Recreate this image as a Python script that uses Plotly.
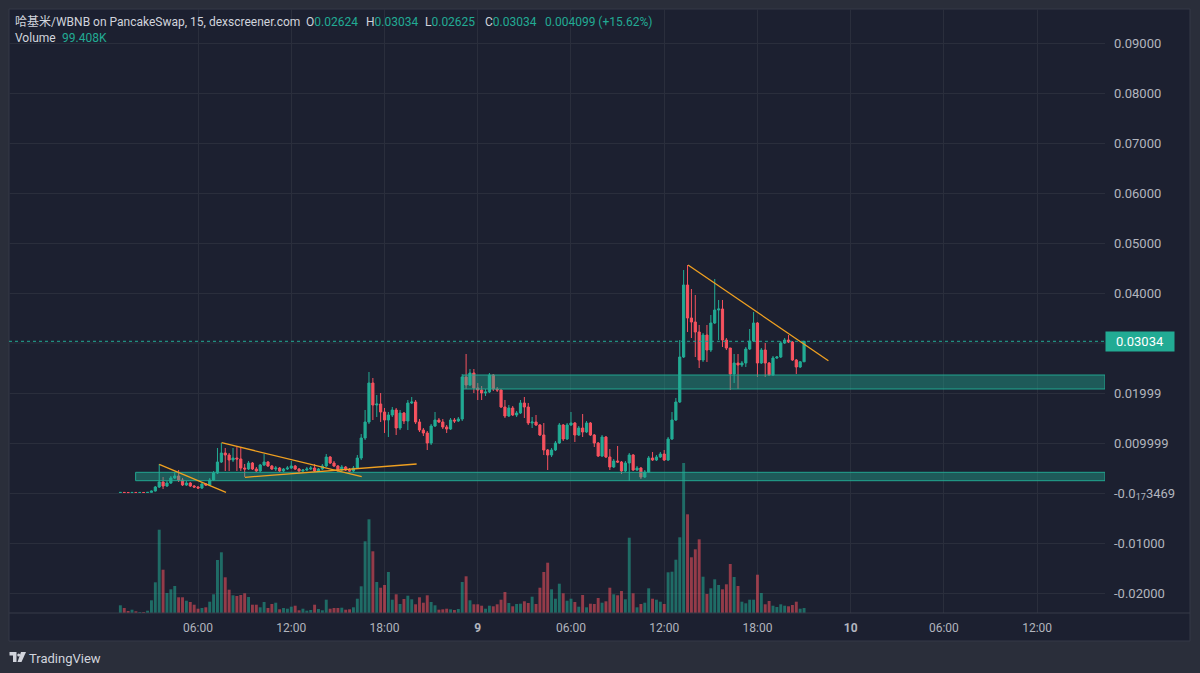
import plotly.graph_objects as go
import pandas as pd

# ---------------- data ----------------
START = "2025-05-08 01:00"   # first 15-minute candle
opens = [0.00010, 0.00012, 0.00010, 0.00009, 0.00011, 0.00010, 0.00011, 0.00010, 0.00013, 0.0004,
         0.0012, 0.0022, 0.0014, 0.0020, 0.0030, 0.0034, 0.0026, 0.0016, 0.0020, 0.0014,
         0.0012, 0.0010, 0.0018, 0.0016, 0.0026, 0.0040, 0.0062, 0.0080, 0.0076, 0.0066,
         0.0070, 0.0068, 0.0050, 0.0048, 0.0060, 0.0048, 0.0044, 0.0056, 0.0062, 0.0054,
         0.0048, 0.0050, 0.0044, 0.0048, 0.0050, 0.0054, 0.0048, 0.0044, 0.0046, 0.0048,
         0.0050, 0.0044, 0.0048, 0.0054, 0.0072, 0.0060, 0.0054, 0.0046, 0.0052, 0.0046,
         0.0044, 0.0050, 0.0070, 0.0110, 0.0142, 0.0220, 0.0176, 0.0178, 0.0162, 0.0146,
         0.0156, 0.0166, 0.0130, 0.0160, 0.0144, 0.0180, 0.0182, 0.0142, 0.0126, 0.0120,
         0.0100, 0.0134, 0.0146, 0.0142, 0.0132, 0.0128, 0.0146, 0.0144, 0.0148, 0.0232,
         0.0216, 0.0240, 0.0210, 0.0206, 0.0200, 0.0202, 0.0236, 0.0208, 0.0206, 0.0172,
         0.0154, 0.0170, 0.0156, 0.0160, 0.0180, 0.0172, 0.0140, 0.0142, 0.0136, 0.0116,
         0.0086, 0.0076, 0.0086, 0.0100, 0.0136, 0.0108, 0.0136, 0.0140, 0.0116, 0.0130,
         0.0122, 0.0140, 0.0116, 0.0100, 0.0074, 0.0112, 0.0072, 0.0052, 0.0064, 0.0062,
         0.0044, 0.0060, 0.0076, 0.0046, 0.0050, 0.0032, 0.0042, 0.0070, 0.0066, 0.0072,
         0.0078, 0.0066, 0.0108, 0.0146, 0.0182, 0.0272, 0.0416, 0.0350, 0.0342, 0.0322,
         0.0266, 0.0316, 0.0286, 0.0340, 0.0366, 0.0368, 0.0306, 0.0290, 0.0238, 0.0260,
         0.0256, 0.0260, 0.0288, 0.0304, 0.0340, 0.0260, 0.0286, 0.0260, 0.0236, 0.0270,
         0.0272, 0.0300, 0.0306, 0.0302, 0.0266, 0.0252, 0.02624]
closes = [0.00012, 0.00010, 0.00009, 0.00011, 0.00010, 0.00011, 0.00010, 0.00013, 0.0004, 0.0012,
          0.0022, 0.0014, 0.0020, 0.0030, 0.0034, 0.0026, 0.0016, 0.0020, 0.0014, 0.0012,
          0.0010, 0.0018, 0.0016, 0.0026, 0.0040, 0.0062, 0.0080, 0.0076, 0.0066, 0.0070,
          0.0068, 0.0050, 0.0048, 0.0060, 0.0048, 0.0044, 0.0056, 0.0062, 0.0054, 0.0048,
          0.0050, 0.0044, 0.0048, 0.0050, 0.0054, 0.0048, 0.0044, 0.0046, 0.0048, 0.0050,
          0.0044, 0.0048, 0.0054, 0.0072, 0.0060, 0.0054, 0.0046, 0.0052, 0.0046, 0.0044,
          0.0050, 0.0070, 0.0110, 0.0142, 0.0220, 0.0176, 0.0178, 0.0162, 0.0146, 0.0156,
          0.0166, 0.0130, 0.0160, 0.0144, 0.0180, 0.0182, 0.0142, 0.0126, 0.0120, 0.0100,
          0.0134, 0.0146, 0.0142, 0.0132, 0.0128, 0.0146, 0.0144, 0.0148, 0.0232, 0.0216,
          0.0240, 0.0210, 0.0206, 0.0200, 0.0202, 0.0236, 0.0208, 0.0206, 0.0172, 0.0154,
          0.0170, 0.0156, 0.0160, 0.0180, 0.0172, 0.0140, 0.0142, 0.0136, 0.0116, 0.0086,
          0.0076, 0.0086, 0.0100, 0.0136, 0.0108, 0.0136, 0.0140, 0.0116, 0.0130, 0.0122,
          0.0140, 0.0116, 0.0100, 0.0074, 0.0112, 0.0072, 0.0052, 0.0064, 0.0062, 0.0044,
          0.0060, 0.0076, 0.0046, 0.0050, 0.0032, 0.0042, 0.0070, 0.0066, 0.0072, 0.0078,
          0.0066, 0.0108, 0.0146, 0.0182, 0.0272, 0.0416, 0.0350, 0.0342, 0.0322, 0.0266,
          0.0316, 0.0286, 0.0340, 0.0366, 0.0368, 0.0306, 0.0290, 0.0238, 0.0260, 0.0256,
          0.0260, 0.0288, 0.0304, 0.0340, 0.0260, 0.0286, 0.0260, 0.0236, 0.0270, 0.0272,
          0.0300, 0.0306, 0.0302, 0.0266, 0.0252, 0.02624, 0.03034]
highs = [0.00014, 0.00013, 0.00011, 0.00012, 0.00011, 0.00012, 0.00011, 0.00014, 0.0005, 0.0014,
         0.0058, 0.0032, 0.0024, 0.0034, 0.0042, 0.0046, 0.0030, 0.0024, 0.0022, 0.0016,
         0.0014, 0.0020, 0.0020, 0.0030, 0.0044, 0.0090, 0.0100, 0.0090, 0.0080, 0.0090,
         0.0092, 0.0092, 0.0058, 0.0064, 0.0062, 0.0052, 0.0058, 0.0078, 0.0064, 0.0056,
         0.0054, 0.0052, 0.0050, 0.0054, 0.0064, 0.0056, 0.0050, 0.0048, 0.0052, 0.0054,
         0.0058, 0.0050, 0.0058, 0.0078, 0.0074, 0.0064, 0.0056, 0.0056, 0.0054, 0.0050,
         0.0054, 0.0076, 0.0118, 0.0166, 0.0242, 0.0230, 0.0196, 0.0200, 0.0170, 0.0162,
         0.0172, 0.0170, 0.0166, 0.0162, 0.0186, 0.0192, 0.0186, 0.0148, 0.0130, 0.0124,
         0.0138, 0.0162, 0.0150, 0.0148, 0.0136, 0.0150, 0.0150, 0.0152, 0.0238, 0.0278,
         0.0248, 0.0248, 0.0220, 0.0214, 0.0208, 0.0240, 0.0238, 0.0212, 0.0208, 0.0186,
         0.0176, 0.0174, 0.0164, 0.0186, 0.0192, 0.0180, 0.0152, 0.0156, 0.0138, 0.0140,
         0.0088, 0.0090, 0.0104, 0.0140, 0.0138, 0.0140, 0.0162, 0.0142, 0.0134, 0.0158,
         0.0144, 0.0142, 0.0118, 0.0102, 0.0116, 0.0114, 0.0088, 0.0068, 0.0094, 0.0064,
         0.0064, 0.0080, 0.0078, 0.0054, 0.0052, 0.0046, 0.0074, 0.0082, 0.0076, 0.0082,
         0.0086, 0.0112, 0.0162, 0.0190, 0.0306, 0.0446, 0.0456, 0.0408, 0.0396, 0.0336,
         0.0320, 0.0336, 0.0356, 0.0428, 0.0386, 0.0386, 0.0310, 0.0290, 0.0278, 0.0278,
         0.0264, 0.0292, 0.0328, 0.0362, 0.0342, 0.0290, 0.0300, 0.0262, 0.0274, 0.0274,
         0.0304, 0.0310, 0.0316, 0.0304, 0.0268, 0.0264, 0.03034]
lows = [0.00009, 0.00009, 0.00008, 0.00009, 0.00009, 0.00010, 0.00009, 0.00010, 0.00012, 0.0003,
        0.0010, 0.0008, 0.0012, 0.0018, 0.0028, 0.0022, 0.0014, 0.0014, 0.0012, 0.0010,
        0.0008, 0.0008, 0.0014, 0.0014, 0.0024, 0.0038, 0.0060, 0.0044, 0.0044, 0.0062,
        0.0044, 0.0044, 0.0032, 0.0046, 0.0046, 0.0042, 0.0042, 0.0054, 0.0052, 0.0046,
        0.0044, 0.0042, 0.0042, 0.0046, 0.0048, 0.0046, 0.0042, 0.0042, 0.0044, 0.0046,
        0.0042, 0.0042, 0.0046, 0.0052, 0.0058, 0.0052, 0.0042, 0.0044, 0.0044, 0.0042,
        0.0042, 0.0048, 0.0066, 0.0106, 0.0138, 0.0146, 0.0152, 0.0142, 0.0120, 0.0112,
        0.0152, 0.0116, 0.0126, 0.0138, 0.0126, 0.0178, 0.0138, 0.0122, 0.0114, 0.0086,
        0.0096, 0.0132, 0.0140, 0.0128, 0.0120, 0.0126, 0.0140, 0.0142, 0.0144, 0.0208,
        0.0214, 0.0200, 0.0186, 0.0186, 0.0194, 0.0200, 0.0204, 0.0202, 0.0170, 0.0150,
        0.0152, 0.0154, 0.0152, 0.0158, 0.0150, 0.0136, 0.0130, 0.0134, 0.0114, 0.0076,
        0.0046, 0.0072, 0.0084, 0.0098, 0.0104, 0.0106, 0.0134, 0.0102, 0.0114, 0.0112,
        0.0120, 0.0114, 0.0092, 0.0072, 0.0072, 0.0070, 0.0046, 0.0050, 0.0060, 0.0038,
        0.0042, 0.0024, 0.0044, 0.0044, 0.0028, 0.0030, 0.0040, 0.0064, 0.0064, 0.0070,
        0.0064, 0.0064, 0.0106, 0.0144, 0.0180, 0.0270, 0.0322, 0.0310, 0.0272, 0.0250,
        0.0262, 0.0262, 0.0282, 0.0338, 0.0306, 0.0292, 0.0286, 0.0206, 0.0220, 0.0208,
        0.0252, 0.0252, 0.0286, 0.0302, 0.0232, 0.0258, 0.0232, 0.0234, 0.0234, 0.0268,
        0.0270, 0.0298, 0.0300, 0.0264, 0.0238, 0.0250, 0.02625]
volumes_k = [154, 100, 40, 66, 34, 20, 20, 46, 254, 614,
             1666, 866, 400, 474, 540, 314, 314, 246, 220, 166,
             86, 100, 114, 226, 374, 1060, 1214, 714, 466, 354,
             340, 360, 394, 320, 166, 166, 114, 220, 100, 180,
             206, 74, 100, 86, 126, 146, 54, 86, 46, 60,
             166, 80, 54, 266, 86, 100, 100, 106, 66, 74,
             114, 286, 534, 1434, 1874, 1234, 620, 506, 560, 820,
             266, 374, 180, 280, 346, 274, 174, 314, 206, 354,
             220, 154, 66, 74, 86, 74, 60, 80, 620, 734,
             254, 174, 174, 146, 86, 146, 134, 174, 266, 420,
             200, 134, 180, 186, 234, 200, 326, 180, 506, 820,
             1006, 474, 286, 586, 394, 246, 286, 220, 126, 360,
             114, 186, 180, 300, 206, 234, 506, 374, 354, 440,
             274, 1506, 394, 114, 180, 206, 494, 286, 266, 226,
             180, 814, 826, 1066, 1514, 3000, 1974, 1114, 1274, 1474,
             726, 380, 494, 674, 560, 474, 574, 980, 720, 540,
             226, 194, 266, 266, 766, 400, 174, 240, 146, 120,
             174, 146, 134, 160, 226, 86, 99.408]

price_ticks = [-0.02, -0.01, 0.0, 0.01, 0.02, 0.04, 0.05, 0.06, 0.07, 0.08, 0.09]
price_tick_labels = ["-0.02000", "-0.01000", "-0.0<sub>17</sub>3469", "0.009999", "0.01999",
                     "0.04000", "0.05000", "0.06000", "0.07000", "0.08000", "0.09000"]
hidden_grid_price = 0.03   # grid row covered by the last-price label
time_ticks = ["2025-05-08 06:00", "2025-05-08 12:00", "2025-05-08 18:00", "2025-05-09 00:00",
              "2025-05-09 06:00", "2025-05-09 12:00", "2025-05-09 18:00", "2025-05-10 00:00",
              "2025-05-10 06:00", "2025-05-10 12:00"]
time_tick_labels = ["06:00", "12:00", "18:00", "<b>9</b>", "06:00", "12:00", "18:00",
                    "<b>10</b>", "06:00", "12:00"]
x_range = ["2025-05-07 17:50", "2025-05-10 16:22"]
y_range = [-0.024, 0.0968]

# header legend values
header_title = "哈基米/WBNB on PancakeSwap, 15, dexscreener.com"
header_change = "0.004099 (+15.62%)"
header_volume = "99.408K"

# support / resistance zones (start time, top, bottom) - extend to right edge
zone_starts = ["2025-05-08 23:03", "2025-05-08 01:59"]
zone_tops = [0.0236, 0.00414]
zone_bottoms = [0.0208, 0.00246]

# drawn trend lines
line_t0 = ["2025-05-08 03:30", "2025-05-08 07:31", "2025-05-08 09:01", "2025-05-09 13:32"]
line_p0 = [0.00574, 0.01006, 0.00314, 0.0456]
line_t1 = ["2025-05-08 07:48", "2025-05-08 16:32", "2025-05-08 20:04", "2025-05-09 22:34"]
line_p1 = [0.00014, 0.00326, 0.0058, 0.02646]

last_price = 0.03034

# ---------------- style ----------------
UP = "#22ab94"
DOWN = "#f7525f"
UP_VOL = "rgba(34,171,148,0.55)"
DOWN_VOL = "rgba(247,82,95,0.55)"
PANE_BG = "#1c2030"
OUTER_BG = "#2a2e3a"
GRID = "#2a2e3c"
TXT = "#b2b5be"
FONT = "Roboto, Noto Sans CJK SC, sans-serif"

W, H = 1200, 673
L, R, T, B = 9, 95, 9, 60
PW, PH = W - L - R, H - T - B


def px(x):
    return (x - L) / PW


def py(y):
    return (H - B - y) / PH


times = pd.date_range(START, periods=len(closes), freq="15min")
vol_colors = [UP_VOL if c >= o else DOWN_VOL for o, c in zip(opens, closes)]

fig = go.Figure()
fig.add_trace(go.Bar(x=times, y=volumes_k, marker=dict(color=vol_colors, line=dict(width=0)),
                     yaxis="y2", showlegend=False, hoverinfo="skip"))
fig.add_trace(go.Candlestick(
    x=times, open=opens, high=highs, low=lows, close=closes,
    increasing=dict(line=dict(color=UP, width=1), fillcolor=UP),
    decreasing=dict(line=dict(color=DOWN, width=1), fillcolor=DOWN),
    whiskerwidth=0, showlegend=False, hoverinfo="skip"))

shapes = []
# outer chart panel
shapes.append(dict(type="rect", xref="paper", yref="paper", x0=px(9), x1=px(1190),
                   y0=py(641), y1=py(9), fillcolor=PANE_BG, line=dict(color="#343847", width=1),
                   layer="below"))
# time-axis separator
shapes.append(dict(type="line", xref="paper", yref="paper", x0=px(9), x1=px(1190),
                   y0=0, y1=0, line=dict(color="#363a48", width=1)))
# grid row hidden behind the last price label
shapes.append(dict(type="line", xref="paper", yref="y", x0=0, x1=1, y0=hidden_grid_price,
                   y1=hidden_grid_price, line=dict(color=GRID, width=1), layer="between"))
# zones
for s, tp, bt in zip(zone_starts, zone_tops, zone_bottoms):
    shapes.append(dict(type="rect", xref="x", yref="y", x0=s, x1=x_range[1], y0=bt, y1=tp,
                       fillcolor="rgba(34,171,148,0.42)", line=dict(color="rgba(34,171,148,0.95)", width=1),
                       layer="above"))
# trend lines
for t0, p0, t1, p1 in zip(line_t0, line_p0, line_t1, line_p1):
    shapes.append(dict(type="line", xref="x", yref="y", x0=t0, y0=p0, x1=t1, y1=p1,
                       line=dict(color="#f0a020", width=1.3), layer="above"))
# last price dotted line
shapes.append(dict(type="line", xref="x", yref="y", x0=x_range[0], x1=x_range[1],
                   y0=last_price, y1=last_price, line=dict(color=UP, width=1, dash="dot"),
                   layer="above"))


# TradingView logo (small glyph)
def pp(x, y):
    return f"{px(x):.5f},{py(y):.5f}"


logo_T = f"M {pp(9.5,652)} L {pp(16.5,652)} L {pp(16.5,662)} L {pp(13,662)} L {pp(13,655.5)} L {pp(9.5,655.5)} Z"
logo_V = f"M {pp(21,652)} L {pp(26,652)} L {pp(21.5,662)} L {pp(17.5,662)} Z"
shapes.append(dict(type="path", xref="paper", yref="paper", path=logo_T,
                   fillcolor="#d1d4dc", line=dict(width=0)))
shapes.append(dict(type="path", xref="paper", yref="paper", path=logo_V,
                   fillcolor="#d1d4dc", line=dict(width=0)))
shapes.append(dict(type="circle", xref="paper", yref="paper", x0=px(17.2), x1=px(20.2),
                   y0=py(656.5), y1=py(653.5), fillcolor="#d1d4dc", line=dict(width=0)))

annotations = []


def txt(x, y, text, size=12, color="#d1d4dc"):
    annotations.append(dict(xref="paper", yref="paper", x=px(x), y=py(y), text=text,
                            showarrow=False, xanchor="left", yanchor="middle",
                            font=dict(size=size, color=color, family=FONT)))


def val(s):
    return f'<span style="color:{UP}">{s}</span>'


txt(13, 22, header_title)
txt(304, 22, "O" + val(f"{opens[-1]:.5f}"))
txt(364, 22, "H" + val(f"{highs[-1]:.5f}"))
txt(423, 22, "L" + val(f"{lows[-1]:.5f}"))
txt(483, 22, "C" + val(f"{closes[-1]:.5f}"))
txt(543, 22, val(header_change))
txt(13, 38, "Volume")
txt(60, 38, val(header_volume))
txt(27, 658, "TradingView", size=13, color="#d1d4dc")

# last price label
annotations.append(dict(xref="paper", yref="y", x=1.0, y=last_price, text=f"{last_price:.5f}",
                        showarrow=False, xanchor="left", yanchor="middle", bgcolor=UP,
                        borderpad=2, width=64, align="center", xshift=0,
                        font=dict(size=13, color="#ffffff", family=FONT)))

fig.update_layout(
    width=W, height=H,
    margin=dict(l=L, r=R, t=T, b=B, pad=0),
    paper_bgcolor=OUTER_BG, plot_bgcolor=PANE_BG,
    font=dict(family=FONT, color=TXT, size=13),
    showlegend=False, hovermode=False, bargap=0.25, boxgap=0.2,
    shapes=shapes, annotations=annotations,
    xaxis=dict(type="date", range=x_range, rangeslider=dict(visible=False),
               tickvals=time_ticks, ticktext=time_tick_labels, showgrid=True, gridcolor=GRID,
               gridwidth=1, zeroline=False, showline=False, ticks="",
               tickfont=dict(size=12, color=TXT), ticklabelstandoff=6),
    yaxis=dict(side="right", range=y_range, tickvals=price_ticks, ticktext=price_tick_labels,
               showgrid=True, gridcolor=GRID, gridwidth=1, zeroline=False, showline=False,
               ticks="", tickfont=dict(size=13, color=TXT), ticklabelstandoff=8),
    yaxis2=dict(overlaying="y", range=[0, PH * 20], visible=False, showgrid=False),
)

fig.write_html("out.html", config={"displayModeBar": False},
               post_script="document.body.style.margin='0';document.body.style.background='%s';" % OUTER_BG)
